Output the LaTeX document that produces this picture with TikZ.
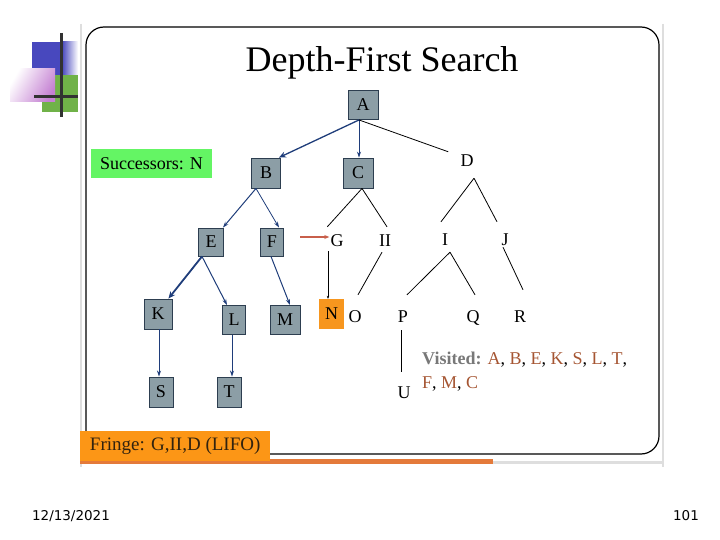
\documentclass[tikz,border=0pt]{standalone}
\usepackage{fontspec}
\setmainfont{Liberation Serif}
\newfontfamily\datefont{DejaVu Sans}
\usetikzlibrary{arrows.meta}
\definecolor{boxfill}{RGB}{140,158,166}
\definecolor{boxline}{RGB}{45,62,80}
\definecolor{arrblue}{RGB}{31,61,122}
\definecolor{norange}{RGB}{247,150,30}
\definecolor{forange}{RGB}{252,150,22}
\definecolor{barorange}{RGB}{228,122,58}
\definecolor{sgreen}{RGB}{100,245,100}
\definecolor{vbrown}{RGB}{165,85,50}
\definecolor{vgray}{RGB}{120,120,120}
\definecolor{redarr}{RGB}{200,95,75}
\definecolor{decblue}{RGB}{72,72,190}
\definecolor{decgreen}{RGB}{112,178,72}
\definecolor{decpink}{RGB}{196,128,210}
\definecolor{decdark}{RGB}{50,50,50}
\definecolor{frgray}{RGB}{222,222,222}
\definecolor{fringetext}{RGB}{50,35,15}
\tikzset{
  gbox/.style={draw=boxline, fill=boxfill, line width=0.9pt, minimum width=27pt, minimum height=29pt, inner sep=0pt, font=\fontsize{18}{21}\selectfont},
  tnode/.style={inner sep=0pt, text height=12pt, text depth=0pt, font=\fontsize{18}{21}\selectfont},
  barrow/.style={draw=arrblue, line width=1pt, -{Stealth[length=6pt,width=4pt]}},
  thickarrow/.style={draw=arrblue, line width=1.8pt, -{Stealth[length=7pt,width=6pt]}},
  tline/.style={draw=black, line width=0.8pt}
}
\begin{document}
\begin{tikzpicture}[x=1pt,y=-1pt]
\useasboundingbox (0,0) rectangle (720,540);
% decoration
\fill[decblue] (32,42) rectangle (62,75);
\shade[left color=decblue, right color=white] (62,42) rectangle (78,75);
\fill[decgreen] (42,75) rectangle (78,112);
\shade[left color=white, right color=decpink, shading angle=60] (10,69) rectangle (55,102);
\draw[decdark, line width=3pt] (61,33) -- (61,117);
\draw[decdark, line width=3pt] (34,97) -- (78,97);
% side gray lines
\draw[frgray, line width=2.5pt] (81,24) -- (81,467);
\draw[frgray, line width=2.5pt] (663,24) -- (663,467);
\draw[frgray, line width=3pt] (493,462) -- (664,462);
% frame
\draw[black, line width=1.2pt, rounded corners=18pt] (86,27) rectangle (659,454);
% title
\node[anchor=base, inner sep=0pt, font=\fontsize{36}{43}\selectfont] (title) at (382,72) {Depth-First Search};
% successors
\node[fill=sgreen, minimum width=121pt, minimum height=29pt, font=\fontsize{18}{21}\selectfont] (succ) at (151.5,163.5) {Successors: N};
% fringe
\fill[barorange] (80,459) rectangle (493,464);
\node[fill=forange, anchor=north west, minimum width=190pt, minimum height=30pt, text=fringetext, font=\fontsize{19}{22}\selectfont, inner xsep=7pt] (fringe) at (80,431) {Fringe: G,II,D (LIFO)};
% nodes
\node[gbox, minimum width=30pt] (A) at (363,105) {A};
\node[gbox, minimum width=29pt, minimum height=30pt] (B) at (266,173) {B};
\node[gbox, minimum width=30pt, minimum height=30pt] (C) at (358,173) {C};
\node[tnode] (D) at (467,161) {D};
\node[gbox, minimum width=25pt, minimum height=28pt] (E) at (211,242) {E};
\node[gbox, minimum width=23pt, minimum height=28pt] (F) at (272,242) {F};
\node[tnode] (G) at (337,240) {G};
\node[tnode] (II) at (385,240) {II};
\node[tnode] (I) at (445,239) {I};
\node[tnode] (J) at (505,239) {J};
\node[gbox, minimum width=28pt, minimum height=30pt] (K) at (158,314) {K};
\node[gbox, minimum width=23pt, minimum height=29pt] (L) at (234,320) {L};
\node[gbox, minimum width=30pt, minimum height=29pt] (M) at (285,320) {M};
\node[fill=norange, minimum width=25pt, minimum height=30pt, inner sep=0pt, font=\fontsize{18}{21}\selectfont] (N) at (331.5,314) {N};
\node[tnode] (O) at (355,316) {O};
\node[tnode] (P) at (403,316) {P};
\node[tnode] (Q) at (473,316) {Q};
\node[tnode] (R) at (520,316) {R};
\node[gbox, minimum width=24pt, minimum height=30pt] (S) at (161,392) {S};
\node[gbox, minimum width=24pt, minimum height=30pt] (T) at (229,392) {T};
\node[tnode] (U) at (404,392) {U};
% edges
\draw[thickarrow, line width=1.3pt] ([xshift=-4pt]A.south) -- ([xshift=-2pt]B.north east);
\draw[barrow, line width=0.7pt] ([xshift=-4pt]A.south) -- ([xshift=1pt]C.north);
\draw[tline] ([xshift=-4pt]A.south) -- ([shift={(-12pt,3pt)}]D.north west);
\draw[barrow] ([xshift=-10pt]B.south) -- ([xshift=-1pt]E.north east);
\draw[barrow, line width=0.8pt] ([xshift=-10pt]B.south) -- ([xshift=7pt]F.north);
\draw[tline] ([xshift=4pt]C.south) -- ([shift={(-3pt,7pt)}]G.north west);
\draw[tline] ([xshift=4pt]C.south) -- ([shift={(2pt,7pt)}]II.north);
\draw[tline] ([shift={(7pt,-11pt)}]D.south) -- ([shift={(-4pt,11pt)}]I.north);
\draw[tline] ([shift={(7pt,-11pt)}]D.south) -- ([shift={(-8pt,11pt)}]J.north);
\draw[tline] ([shift={(-3pt,-6pt)}]II.south) -- ([shift={(3pt,15pt)}]O.north);
\draw[tline] ([shift={(5pt,-7pt)}]I.south) -- ([shift={(4pt,15pt)}]P.north);
\draw[tline] ([shift={(5pt,-7pt)}]I.south) -- ([shift={(2pt,15pt)}]Q.north);
\draw[tline] ([shift={(-2pt,-2pt)}]J.south) -- ([shift={(3pt,20pt)}]R.north);
\draw[thickarrow] ([xshift=-9pt]E.south) -- ([xshift=-4pt]K.north east);
\draw[barrow] ([xshift=-9pt]E.south) -- ([xshift=-7pt]L.north);
\draw[barrow] ([xshift=-1pt]F.south) -- ([xshift=5pt]M.north);
\draw[barrow] ([xshift=1pt]K.south) -- ([xshift=-2pt]S.north);
\draw[barrow] ([xshift=-2pt]L.south) -- ([xshift=3pt]T.north);
\draw[tline, -{Stealth[length=3pt,width=2.5pt]}, line width=0.6pt] ([shift={(-9pt,-5pt)}]G.south) -- ([xshift=-3.5pt]N.north);
\coordinate (redstart) at (300,237);
\draw[redarr, line width=1.3pt, -{Stealth[length=5pt,width=4pt]}] (redstart) -- ([shift={(-1pt,3pt)}]G.west);
\draw[tline] ([shift={(-2pt,-8pt)}]P.south) -- ([shift={(-3pt,14pt)}]U.north);
% visited
\node[anchor=base west, inner sep=0pt, font=\fontsize{18}{21}\selectfont] (vis1) at (422,364) {\textcolor{vgray}{\textbf{Visited:}} \textcolor{vbrown}{A}, \textcolor{vbrown}{B}, \textcolor{vbrown}{E}, \textcolor{vbrown}{K}, \textcolor{vbrown}{S}, \textcolor{vbrown}{L}, \textcolor{vbrown}{T},};
\node[anchor=base west, inner sep=0pt, font=\fontsize{18}{21}\selectfont] (vis2) at (422,388) {\textcolor{vbrown}{F}, \textcolor{vbrown}{M}, \textcolor{vbrown}{C}};
% footer
\node[font=\datefont\fontsize{13.5}{16}\selectfont] (date) at (71,516) {12/13/2021};
\node[font=\datefont\fontsize{13.5}{16}\selectfont] (page) at (686,516) {101};
\end{tikzpicture}
\end{document}
